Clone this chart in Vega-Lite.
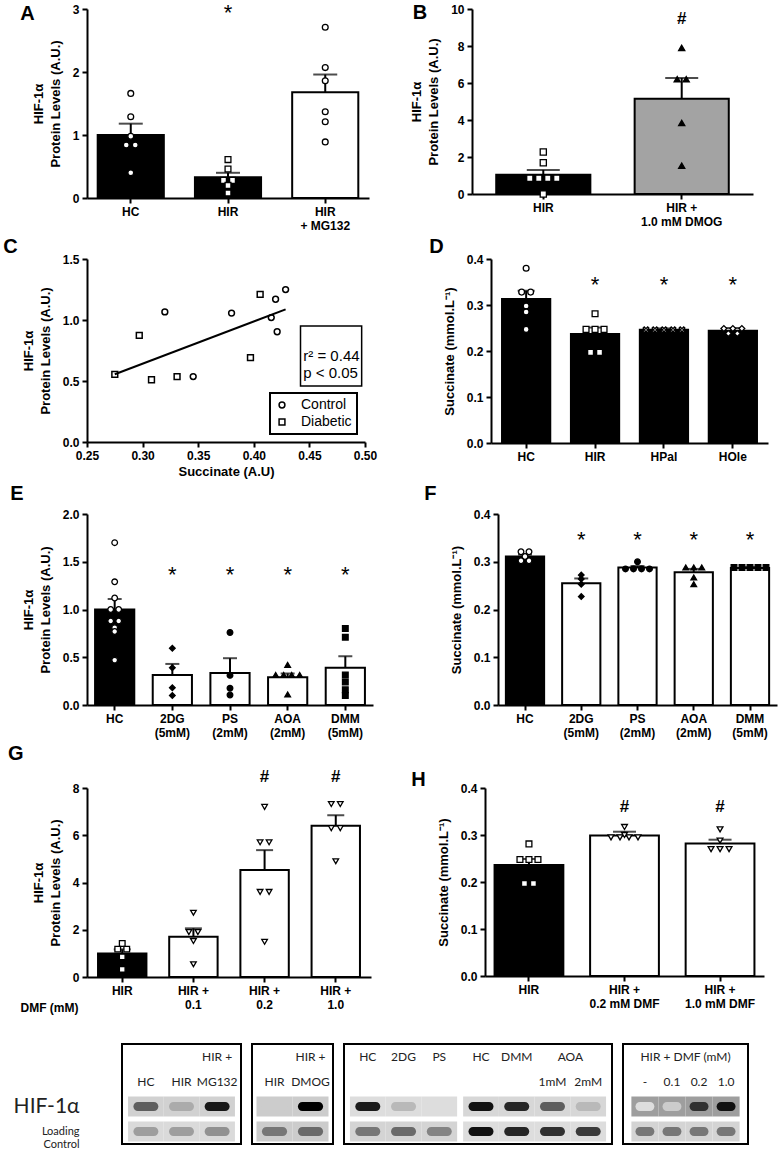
{
"$schema": "https://vega.github.io/schema/vega-lite/v6.json",
"background": "white",
"padding": {"left": 3, "top": 2, "right": 5, "bottom": 5},
"columns": 1,
"align": "none",
"spacing": 6,
"resolve": {"scale": {"fill": "independent", "color": "independent", "shape": "independent"}, "legend": {"shape": "independent"}},
"datasets": {
"Abar": [{"g":"HC","m":1.0,"u":1.18},{"g":"HIR","m":0.33,"u":0.40,"sig":"*","sy":2.93},{"g":"HIR + MG132","m":1.68,"u":1.96}],
"Apts": [{"g":"HC","v":1.66},{"g":"HC","v":1.29},{"g":"HC","v":0.98},{"g":"HC","v":0.84},{"g":"HC","v":0.84},{"g":"HC","v":0.40},
{"g":"HIR","v":0.61},{"g":"HIR","v":0.46},{"g":"HIR","v":0.28},{"g":"HIR","v":0.28},{"g":"HIR","v":0.20},{"g":"HIR","v":0.08},
{"g":"HIR + MG132","v":2.71},{"g":"HIR + MG132","v":2.07},{"g":"HIR + MG132","v":1.86},{"g":"HIR + MG132","v":1.37},{"g":"HIR + MG132","v":1.21},{"g":"HIR + MG132","v":0.89}],
"Bbar": [{"g":"HIR","m":1.04,"u":1.30},{"g":"HIR + 1.0 mM DMOG","m":5.15,"u":6.27,"sig":"#","sy":9.45}],
"Bpts": [{"g":"HIR","v":2.27},{"g":"HIR","v":1.69},{"g":"HIR","v":0.85},{"g":"HIR","v":0.85},{"g":"HIR","v":0.85},{"g":"HIR","v":0.85},{"g":"HIR","v":0.0},
{"g":"HIR + 1.0 mM DMOG","v":7.9},{"g":"HIR + 1.0 mM DMOG","v":6.2},{"g":"HIR + 1.0 mM DMOG","v":6.2},{"g":"HIR + 1.0 mM DMOG","v":3.84},{"g":"HIR + 1.0 mM DMOG","v":1.53}],
"Cpts": [{"grp":"Control","s":0.320,"h":1.066},{"grp":"Control","s":0.3455,"h":0.536},{"grp":"Control","s":0.380,"h":1.057},{"grp":"Control","s":0.4157,"h":1.02},{"grp":"Control","s":0.4196,"h":1.17},{"grp":"Control","s":0.421,"h":0.904},{"grp":"Control","s":0.4286,"h":1.249},
{"grp":"Diabetic","s":0.275,"h":0.555},{"grp":"Diabetic","s":0.297,"h":0.874},{"grp":"Diabetic","s":0.308,"h":0.51},{"grp":"Diabetic","s":0.331,"h":0.536},{"grp":"Diabetic","s":0.397,"h":0.691},{"grp":"Diabetic","s":0.4057,"h":1.21}],
"Cline": [{"s":0.275,"h":0.555},{"s":0.4286,"h":1.087}],
"Cbox": [{"s":0.442,"s2":0.497,"h":0.459,"h2":0.951}],
"Ctxt": [{"s":0.4445,"h":0.66,"t":"r² = 0.44"},{"s":0.4445,"h":0.525,"t":"p < 0.05"}],
"Dbar": [{"g":"HC","m":0.313,"u":0.331},{"g":"HIR","m":0.237,"u":0.251,"sig":"*","sy":0.343},{"g":"HPal","m":0.246,"u":0.249,"sig":"*","sy":0.343},{"g":"HOle","m":0.244,"u":0.250,"sig":"*","sy":0.343}],
"Dpts": [{"g":"HC","v":0.380},{"g":"HC","v":0.328},{"g":"HC","v":0.328},{"g":"HC","v":0.298},{"g":"HC","v":0.285},{"g":"HC","v":0.247},
{"g":"HIR","v":0.281},{"g":"HIR","v":0.247},{"g":"HIR","v":0.247},{"g":"HIR","v":0.247},{"g":"HIR","v":0.197},{"g":"HIR","v":0.197},
{"g":"HPal","v":0.246},{"g":"HPal","v":0.246},{"g":"HPal","v":0.246},{"g":"HPal","v":0.246},{"g":"HPal","v":0.246},
{"g":"HOle","v":0.249},{"g":"HOle","v":0.249},{"g":"HOle","v":0.249},{"g":"HOle","v":0.238},{"g":"HOle","v":0.238}],
"Ebar": [{"g":"HC","m":1.0,"u":1.11},{"g":"2DG (5mM)","m":0.315,"u":0.43,"sig":"*","sy":1.36},{"g":"PS (2mM)","m":0.335,"u":0.49,"sig":"*","sy":1.36},{"g":"AOA (2mM)","m":0.29,"u":0.33,"sig":"*","sy":1.36},{"g":"DMM (5mM)","m":0.39,"u":0.51,"sig":"*","sy":1.36}],
"Epts": [{"g":"HC","v":1.70},{"g":"HC","v":1.29},{"g":"HC","v":1.12},{"g":"HC","v":1.0},{"g":"HC","v":1.0},{"g":"HC","v":0.88},{"g":"HC","v":0.88},{"g":"HC","v":0.81},{"g":"HC","v":0.77},{"g":"HC","v":0.47},
{"g":"2DG (5mM)","v":0.594},{"g":"2DG (5mM)","v":0.39},{"g":"2DG (5mM)","v":0.18},{"g":"2DG (5mM)","v":0.10},
{"g":"PS (2mM)","v":0.76},{"g":"PS (2mM)","v":0.31},{"g":"PS (2mM)","v":0.175},{"g":"PS (2mM)","v":0.105},
{"g":"AOA (2mM)","v":0.42},{"g":"AOA (2mM)","v":0.315},{"g":"AOA (2mM)","v":0.315},{"g":"AOA (2mM)","v":0.315},{"g":"AOA (2mM)","v":0.315},{"g":"AOA (2mM)","v":0.11},
{"g":"DMM (5mM)","v":0.80},{"g":"DMM (5mM)","v":0.71},{"g":"DMM (5mM)","v":0.315},{"g":"DMM (5mM)","v":0.24},{"g":"DMM (5mM)","v":0.16},{"g":"DMM (5mM)","v":0.10}],
"Fbar": [{"g":"HC","m":0.311,"u":0.315},{"g":"2DG (5mM)","m":0.255,"u":0.265,"sig":"*","sy":0.346},{"g":"PS (2mM)","m":0.288,"u":0.291,"sig":"*","sy":0.346},{"g":"AOA (2mM)","m":0.278,"u":0.285,"sig":"*","sy":0.346},{"g":"DMM (5mM)","m":0.287,"u":0.289,"sig":"*","sy":0.346}],
"Fpts": [{"g":"HC","v":0.321},{"g":"HC","v":0.321},{"g":"HC","v":0.311},{"g":"HC","v":0.302},{"g":"HC","v":0.302},
{"g":"2DG (5mM)","v":0.272},{"g":"2DG (5mM)","v":0.264},{"g":"2DG (5mM)","v":0.253},{"g":"2DG (5mM)","v":0.227},
{"g":"PS (2mM)","v":0.30},{"g":"PS (2mM)","v":0.285},{"g":"PS (2mM)","v":0.285},{"g":"PS (2mM)","v":0.285},{"g":"PS (2mM)","v":0.285},
{"g":"AOA (2mM)","v":0.288},{"g":"AOA (2mM)","v":0.288},{"g":"AOA (2mM)","v":0.288},{"g":"AOA (2mM)","v":0.267},{"g":"AOA (2mM)","v":0.253},
{"g":"DMM (5mM)","v":0.288},{"g":"DMM (5mM)","v":0.288},{"g":"DMM (5mM)","v":0.288},{"g":"DMM (5mM)","v":0.288},{"g":"DMM (5mM)","v":0.288}],
"Gbar": [{"g":"HIR","m":1.0,"u":1.17},{"g":"HIR + 0.1","m":1.70,"u":2.06},{"g":"HIR + 0.2","m":4.53,"u":5.37,"sig":"#","sy":8.45},{"g":"HIR + 1.0","m":6.40,"u":6.85,"sig":"#","sy":8.45}],
"Gpts": [{"g":"HIR","v":1.42},{"g":"HIR","v":1.18},{"g":"HIR","v":1.18},{"g":"HIR","v":0.85},{"g":"HIR","v":0.32},
{"g":"HIR + 0.1","v":2.72},{"g":"HIR + 0.1","v":1.90},{"g":"HIR + 0.1","v":1.90},{"g":"HIR + 0.1","v":1.52},{"g":"HIR + 0.1","v":0.54},
{"g":"HIR + 0.2","v":7.2},{"g":"HIR + 0.2","v":5.7},{"g":"HIR + 0.2","v":5.7},{"g":"HIR + 0.2","v":3.6},{"g":"HIR + 0.2","v":3.6},{"g":"HIR + 0.2","v":1.49},
{"g":"HIR + 1.0","v":7.32},{"g":"HIR + 1.0","v":7.32},{"g":"HIR + 1.0","v":6.3},{"g":"HIR + 1.0","v":6.3},{"g":"HIR + 1.0","v":4.90}],
"Hbar": [{"g":"HIR","m":0.236,"u":0.249},{"g":"HIR + 0.2 mM DMF","m":0.299,"u":0.307,"sig":"#","sy":0.36},{"g":"HIR + 1.0 mM DMF","m":0.282,"u":0.290,"sig":"#","sy":0.36}],
"Hpts": [{"g":"HIR","v":0.281},{"g":"HIR","v":0.248},{"g":"HIR","v":0.248},{"g":"HIR","v":0.248},{"g":"HIR","v":0.197},{"g":"HIR","v":0.197},
{"g":"HIR + 0.2 mM DMF","v":0.317},{"g":"HIR + 0.2 mM DMF","v":0.295},{"g":"HIR + 0.2 mM DMF","v":0.295},{"g":"HIR + 0.2 mM DMF","v":0.295},{"g":"HIR + 0.2 mM DMF","v":0.295},{"g":"HIR + 0.2 mM DMF","v":0.30},
{"g":"HIR + 1.0 mM DMF","v":0.312},{"g":"HIR + 1.0 mM DMF","v":0.288},{"g":"HIR + 1.0 mM DMF","v":0.270},{"g":"HIR + 1.0 mM DMF","v":0.270},{"g":"HIR + 1.0 mM DMF","v":0.270}],
"blotlab": [{"row":"HIF"},{"row":"LC"}],
"blot1": [{"lane":"HC","row":"HIF","bg":0.16,"b":0.6},{"lane":"HIR","row":"HIF","bg":0.16,"b":0.3},{"lane":"HIR + MG132","row":"HIF","bg":0.16,"b":0.92},
{"lane":"HC","row":"LC","bg":0.13,"b":0.35},{"lane":"HIR","row":"LC","bg":0.13,"b":0.35},{"lane":"HIR + MG132","row":"LC","bg":0.13,"b":0.4}],
"lab1": [{"lane":"HC","row":"l2","t":"HC"},{"lane":"HIR","row":"l2","t":"HIR"},{"lane":"HIR + MG132","row":"l1","t":"HIR +"},{"lane":"HIR + MG132","row":"l2","t":"MG132"}],
"blot2": [{"lane":"HIR","row":"HIF","bg":0.18,"b":0.18},{"lane":"HIR + DMOG","row":"HIF","bg":0.18,"b":1.0},
{"lane":"HIR","row":"LC","bg":0.18,"b":0.5},{"lane":"HIR + DMOG","row":"LC","bg":0.18,"b":0.55}],
"lab2": [{"lane":"HIR","row":"l2","t":"HIR"},{"lane":"HIR + DMOG","row":"l1","t":"HIR +"},{"lane":"HIR + DMOG","row":"l2","t":"DMOG"}],
"blot3": [{"lane":"HC a","strip":1,"row":"HIF","bg":0.12,"b":0.9},{"lane":"2DG","strip":1,"row":"HIF","bg":0.12,"b":0.25},{"lane":"PS","strip":1,"row":"HIF","bg":0.12,"b":0.12},
{"lane":"HC b","strip":2,"row":"HIF","bg":0.14,"b":0.95},{"lane":"DMM","strip":2,"row":"HIF","bg":0.14,"b":0.85},{"lane":"AOA 1mM","strip":2,"row":"HIF","bg":0.14,"b":0.6},{"lane":"AOA 2mM","strip":2,"row":"HIF","bg":0.14,"b":0.25},
{"lane":"HC a","strip":1,"row":"LC","bg":0.15,"b":0.5},{"lane":"2DG","strip":1,"row":"LC","bg":0.15,"b":0.55},{"lane":"PS","strip":1,"row":"LC","bg":0.15,"b":0.45},
{"lane":"HC b","strip":2,"row":"LC","bg":0.12,"b":0.95},{"lane":"DMM","strip":2,"row":"LC","bg":0.12,"b":0.85},{"lane":"AOA 1mM","strip":2,"row":"LC","bg":0.12,"b":0.8},{"lane":"AOA 2mM","strip":2,"row":"LC","bg":0.12,"b":0.75}],
"lab3": [{"lane":"HC a","strip":1,"row":"l1","t":"HC"},{"lane":"2DG","strip":1,"row":"l1","t":"2DG"},{"lane":"PS","strip":1,"row":"l1","t":"PS"},
{"lane":"HC b","strip":2,"row":"l1","t":"HC"},{"lane":"DMM","strip":2,"row":"l1","t":"DMM"},{"lane":"AOA 1mM","strip":2,"row":"l1","t":"AOA","span":true},
{"lane":"AOA 1mM","strip":2,"row":"l2","t":"1mM"},{"lane":"AOA 2mM","strip":2,"row":"l2","t":"2mM"}],
"blot4": [{"lane":"-","row":"HIF","bg":0.35,"b":0.12},{"lane":"0.1","row":"HIF","bg":0.35,"b":0.18},{"lane":"0.2","row":"HIF","bg":0.35,"b":0.8},{"lane":"1.0","row":"HIF","bg":0.35,"b":0.95},
{"lane":"-","row":"LC","bg":0.15,"b":0.5},{"lane":"0.1","row":"LC","bg":0.15,"b":0.5},{"lane":"0.2","row":"LC","bg":0.15,"b":0.5},{"lane":"1.0","row":"LC","bg":0.15,"b":0.5}],
"lab4": [{"lane":"0.1","row":"l1","t":"HIR + DMF (mM)","span":true},{"lane":"-","row":"l2","t":"-"},{"lane":"0.1","row":"l2","t":"0.1"},{"lane":"0.2","row":"l2","t":"0.2"},{"lane":"1.0","row":"l2","t":"1.0"}]
},
"concat": [
{"hconcat": [
{"title": {"text": "A", "dx": -12, "offset": -22}, "width": 282, "height": 189,
 "encoding": {"x": {"field": "g", "type": "nominal", "sort": null, "title": null, "scale": {"domain": ["HC","HIR","HIR + MG132"], "paddingInner": 0.32, "paddingOuter": 0.11}, "axis": {"labelExpr": "split(replace(datum.label, ' + ', '|+ '), '|')"}}},
 "layer": [
  {"data": {"name": "Abar"}, "mark": {"type": "bar", "stroke": "black", "strokeWidth": 2},
   "encoding": {"y": {"field": "m", "type": "quantitative", "scale": {"domain": [0, 3], "nice": false}, "title": ["HIF-1α", "Protein Levels (A.U.)"], "axis": {"values": [0,1,2,3], "format": "d"}},
    "fill": {"field": "g", "type": "nominal", "scale": {"domain": ["HC","HIR","HIR + MG132"], "range": ["black","black","white"]}, "legend": null}}},
  {"data": {"name": "Abar"}, "mark": {"type": "rule", "strokeWidth": 2, "color": "black"},
   "encoding": {"y": {"field": "m", "type": "quantitative", "scale": {"domain": [0, 3], "nice": false}, "title": ["HIF-1α", "Protein Levels (A.U.)"], "axis": {"values": [0,1,2,3], "format": "d"}}, "y2": {"field": "u"}}},
  {"data": {"name": "Abar"}, "mark": {"type": "tick", "thickness": 2, "size": 24, "color": "black"},
   "encoding": {"y": {"field": "u", "type": "quantitative", "scale": {"domain": [0, 3], "nice": false}, "title": ["HIF-1α", "Protein Levels (A.U.)"], "axis": {"values": [0,1,2,3], "format": "d"}}}},
  {"data": {"name": "Apts"}, "transform": [{"window": [{"op": "row_number", "as": "k"}], "groupby": ["g","v"]}, {"joinaggregate": [{"op": "count", "as": "n"}], "groupby": ["g","v"]}, {"calculate": "datum.k - (datum.n + 1) / 2", "as": "off"}],
   "mark": {"type": "point", "filled": true, "stroke": "black", "strokeWidth": 1.3, "size": 34, "opacity": 1, "xOffset": {"expr": "datum.off * 9"}},
   "encoding": {"y": {"field": "v", "type": "quantitative", "scale": {"domain": [0, 3], "nice": false}, "title": ["HIF-1α", "Protein Levels (A.U.)"], "axis": {"values": [0,1,2,3], "format": "d"}},
    "shape": {"field": "g", "type": "nominal", "scale": {"domain": ["HC","HIR","HIR + MG132"], "range": ["circle","square","circle"]}, "legend": null},
    "color": {"field": "g", "type": "nominal", "scale": {"domain": ["HC","HIR","HIR + MG132"], "range": ["white","white","white"]}, "legend": null}}},
  {"data": {"name": "Abar"}, "transform": [{"filter": "datum.sig"}], "mark": {"type": "text", "fontSize": 22, "baseline": "middle", "color": "black"},
   "encoding": {"y": {"field": "sy", "type": "quantitative", "scale": {"domain": [0, 3], "nice": false}, "title": ["HIF-1α", "Protein Levels (A.U.)"], "axis": {"values": [0,1,2,3], "format": "d"}}, "text": {"field": "sig"}}}
 ]},
{"title": {"text": "B", "dx": 2, "offset": -20}, "width": 281, "height": 185,
 "encoding": {"x": {"field": "g", "type": "nominal", "sort": null, "title": null, "scale": {"domain": ["HIR","HIR + 1.0 mM DMOG"], "paddingInner": 0.32, "paddingOuter": 0.175}, "axis": {"labelExpr": "split(replace(datum.label, '+ ', '+|'), '|')"}}},
 "layer": [
  {"data": {"name": "Bbar"}, "mark": {"type": "bar", "stroke": "black", "strokeWidth": 2},
   "encoding": {"y": {"field": "m", "type": "quantitative", "scale": {"domain": [0, 10], "nice": false}, "title": ["HIF-1α", "Protein Levels (A.U.)"], "axis": {"values": [0,2,4,6,8,10], "format": "d"}},
    "fill": {"field": "g", "type": "nominal", "scale": {"domain": ["HIR","HIR + 1.0 mM DMOG"], "range": ["black","#a3a3a3"]}, "legend": null}}},
  {"data": {"name": "Bbar"}, "mark": {"type": "rule", "strokeWidth": 2, "color": "black"},
   "encoding": {"y": {"field": "m", "type": "quantitative", "scale": {"domain": [0, 10], "nice": false}, "title": ["HIF-1α", "Protein Levels (A.U.)"], "axis": {"values": [0,2,4,6,8,10], "format": "d"}}, "y2": {"field": "u"}}},
  {"data": {"name": "Bbar"}, "mark": {"type": "tick", "thickness": 2, "size": 33, "color": "black"},
   "encoding": {"y": {"field": "u", "type": "quantitative", "scale": {"domain": [0, 10], "nice": false}, "title": ["HIF-1α", "Protein Levels (A.U.)"], "axis": {"values": [0,2,4,6,8,10], "format": "d"}}}},
  {"data": {"name": "Bpts"}, "transform": [{"window": [{"op": "row_number", "as": "k"}], "groupby": ["g","v"]}, {"joinaggregate": [{"op": "count", "as": "n"}], "groupby": ["g","v"]}, {"calculate": "datum.k - (datum.n + 1) / 2", "as": "off"}],
   "mark": {"type": "point", "filled": true, "stroke": "black", "strokeWidth": 1.3, "size": 38, "opacity": 1, "xOffset": {"expr": "datum.off * 9"}},
   "encoding": {"y": {"field": "v", "type": "quantitative", "scale": {"domain": [0, 10], "nice": false}, "title": ["HIF-1α", "Protein Levels (A.U.)"], "axis": {"values": [0,2,4,6,8,10], "format": "d"}},
    "shape": {"field": "g", "type": "nominal", "scale": {"domain": ["HIR","HIR + 1.0 mM DMOG"], "range": ["square","triangle-up"]}, "legend": null},
    "color": {"field": "g", "type": "nominal", "scale": {"domain": ["HIR","HIR + 1.0 mM DMOG"], "range": ["white","black"]}, "legend": null}}},
  {"data": {"name": "Bbar"}, "transform": [{"filter": "datum.sig"}], "mark": {"type": "text", "fontSize": 17, "fontWeight": "bold", "baseline": "middle", "color": "black"},
   "encoding": {"y": {"field": "sy", "type": "quantitative", "scale": {"domain": [0, 10], "nice": false}, "title": ["HIF-1α", "Protein Levels (A.U.)"], "axis": {"values": [0,2,4,6,8,10], "format": "d"}}, "text": {"field": "sig"}}}
 ]}
], "spacing": 41, "resolve": {"scale": {"fill": "independent", "color": "independent", "shape": "independent"}}},
{"hconcat": [
{"title": {"text": "C", "dx": -19, "offset": -4}, "width": 278, "height": 183,
 "encoding": {"x": {"field": "s", "type": "quantitative", "title": "Succinate (A.U)", "scale": {"domain": [0.25, 0.5], "nice": false, "zero": false}, "axis": {"values": [0.25,0.3,0.35,0.4,0.45,0.5], "format": ".2f"}},
   "y": {"field": "h", "type": "quantitative", "title": ["HIF-1α", "Protein Levels (A.U.)"], "scale": {"domain": [0, 1.5], "nice": false}, "axis": {"values": [0,0.5,1,1.5], "format": ".1f"}}},
 "layer": [
  {"data": {"name": "Cbox"}, "mark": {"type": "rect", "fill": "white", "stroke": "black", "strokeWidth": 1.5},
   "encoding": {"x2": {"field": "s2"}, "y2": {"field": "h2"}}},
  {"data": {"name": "Ctxt"}, "mark": {"type": "text", "align": "left", "baseline": "alphabetic", "fontSize": 15, "color": "black"},
   "encoding": {"text": {"field": "t"}}},
  {"data": {"name": "Cline"}, "mark": {"type": "line", "color": "black", "strokeWidth": 2}, "encoding": {}},
  {"data": {"name": "Cpts"}, "mark": {"type": "point", "filled": false, "color": "black", "strokeWidth": 1.5, "size": 34, "opacity": 1},
   "encoding": {
    "shape": {"field": "grp", "type": "nominal", "scale": {"domain": ["Control","Diabetic"], "range": ["circle","square"]},
     "legend": {"title": null, "orient": "bottom-right", "offset": 8, "strokeColor": "black", "padding": 5, "labelFont": "Liberation Sans", "labelFontSize": 14, "labelFontWeight": "normal", "labelColor": "black", "symbolStrokeColor": "black", "symbolStrokeWidth": 1.5, "symbolSize": 34, "symbolFillColor": "white", "rowPadding": 3, "labelOffset": 12}}}}
 ]},
{"title": {"text": "D", "dx": -14, "offset": -4}, "width": 277, "height": 184,
 "encoding": {"x": {"field": "g", "type": "nominal", "sort": null, "title": null, "scale": {"domain": ["HC","HIR","HPal","HOle"], "paddingInner": 0.3, "paddingOuter": 0.16}}},
 "layer": [
  {"data": {"name": "Dbar"}, "mark": {"type": "bar", "stroke": "black", "strokeWidth": 2},
   "encoding": {"y": {"field": "m", "type": "quantitative", "scale": {"domain": [0, 0.4], "nice": false}, "title": "Succinate (mmol.L⁻¹)", "axis": {"values": [0,0.1,0.2,0.3,0.4], "format": ".1f"}},
    "fill": {"field": "g", "type": "nominal", "scale": {"domain": ["HC","HIR","HPal","HOle"], "range": ["black","black","black","black"]}, "legend": null}}},
  {"data": {"name": "Dbar"}, "mark": {"type": "rule", "strokeWidth": 2, "color": "black"},
   "encoding": {"y": {"field": "m", "type": "quantitative", "scale": {"domain": [0, 0.4], "nice": false}, "title": "Succinate (mmol.L⁻¹)", "axis": {"values": [0,0.1,0.2,0.3,0.4], "format": ".1f"}}, "y2": {"field": "u"}}},
  {"data": {"name": "Dbar"}, "mark": {"type": "tick", "thickness": 2, "size": 17, "color": "black"},
   "encoding": {"y": {"field": "u", "type": "quantitative", "scale": {"domain": [0, 0.4], "nice": false}, "title": "Succinate (mmol.L⁻¹)", "axis": {"values": [0,0.1,0.2,0.3,0.4], "format": ".1f"}}}},
  {"data": {"name": "Dpts"}, "transform": [{"window": [{"op": "row_number", "as": "k"}], "groupby": ["g","v"]}, {"joinaggregate": [{"op": "count", "as": "n"}], "groupby": ["g","v"]}, {"calculate": "datum.k - (datum.n + 1) / 2", "as": "off"}],
   "mark": {"type": "point", "filled": true, "stroke": "black", "strokeWidth": 1.3, "size": 34, "opacity": 1, "xOffset": {"expr": "datum.off * 9"}},
   "encoding": {"y": {"field": "v", "type": "quantitative", "scale": {"domain": [0, 0.4], "nice": false}, "title": "Succinate (mmol.L⁻¹)", "axis": {"values": [0,0.1,0.2,0.3,0.4], "format": ".1f"}},
    "shape": {"field": "g", "type": "nominal", "scale": {"domain": ["HC","HIR","HPal","HOle"], "range": ["circle","square","M-1,-0.6L-0.6,-1L0,-0.4L0.6,-1L1,-0.6L0.4,0L1,0.6L0.6,1L0,0.4L-0.6,1L-1,0.6L-0.4,0Z","diamond"]}, "legend": null},
    "color": {"field": "g", "type": "nominal", "scale": {"domain": ["HC","HIR","HPal","HOle"], "range": ["white","white","white","white"]}, "legend": null}}},
  {"data": {"name": "Dbar"}, "transform": [{"filter": "datum.sig"}], "mark": {"type": "text", "fontSize": 22, "baseline": "middle", "color": "black"},
   "encoding": {"y": {"field": "sy", "type": "quantitative", "scale": {"domain": [0, 0.4], "nice": false}, "title": "Succinate (mmol.L⁻¹)", "axis": {"values": [0,0.1,0.2,0.3,0.4], "format": ".1f"}}, "text": {"field": "sig"}}}
 ]}
], "spacing": 52, "resolve": {"scale": {"fill": "independent", "color": "independent", "shape": "independent"}, "legend": {"shape": "independent"}}},
{"hconcat": [
{"title": {"text": "E", "dx": -12, "offset": 4}, "width": 286, "height": 191,
 "encoding": {"x": {"field": "g", "type": "nominal", "sort": null, "title": null, "scale": {"domain": ["HC","2DG (5mM)","PS (2mM)","AOA (2mM)","DMM (5mM)"], "paddingInner": 0.32, "paddingOuter": 0.14}, "axis": {"labelExpr": "split(datum.label, ' ')"}}},
 "layer": [
  {"data": {"name": "Ebar"}, "mark": {"type": "bar", "stroke": "black", "strokeWidth": 2},
   "encoding": {"y": {"field": "m", "type": "quantitative", "scale": {"domain": [0, 2], "nice": false}, "title": ["HIF-1α", "Protein Levels (A.U.)"], "axis": {"values": [0,0.5,1,1.5,2], "format": ".1f"}},
    "fill": {"field": "g", "type": "nominal", "scale": {"domain": ["HC","2DG (5mM)","PS (2mM)","AOA (2mM)","DMM (5mM)"], "range": ["black","white","white","white","white"]}, "legend": null}}},
  {"data": {"name": "Ebar"}, "mark": {"type": "rule", "strokeWidth": 2, "color": "black"},
   "encoding": {"y": {"field": "m", "type": "quantitative", "scale": {"domain": [0, 2], "nice": false}, "title": ["HIF-1α", "Protein Levels (A.U.)"], "axis": {"values": [0,0.5,1,1.5,2], "format": ".1f"}}, "y2": {"field": "u"}}},
  {"data": {"name": "Ebar"}, "mark": {"type": "tick", "thickness": 2, "size": 14, "color": "black"},
   "encoding": {"y": {"field": "u", "type": "quantitative", "scale": {"domain": [0, 2], "nice": false}, "title": ["HIF-1α", "Protein Levels (A.U.)"], "axis": {"values": [0,0.5,1,1.5,2], "format": ".1f"}}}},
  {"data": {"name": "Epts"}, "transform": [{"window": [{"op": "row_number", "as": "k"}], "groupby": ["g","v"]}, {"joinaggregate": [{"op": "count", "as": "n"}], "groupby": ["g","v"]}, {"calculate": "datum.k - (datum.n + 1) / 2", "as": "off"}],
   "mark": {"type": "point", "filled": true, "stroke": "black", "strokeWidth": 1.3, "size": 32, "opacity": 1, "xOffset": {"expr": "datum.off * 8"}},
   "encoding": {"y": {"field": "v", "type": "quantitative", "scale": {"domain": [0, 2], "nice": false}, "title": ["HIF-1α", "Protein Levels (A.U.)"], "axis": {"values": [0,0.5,1,1.5,2], "format": ".1f"}},
    "shape": {"field": "g", "type": "nominal", "scale": {"domain": ["HC","2DG (5mM)","PS (2mM)","AOA (2mM)","DMM (5mM)"], "range": ["circle","diamond","circle","triangle-up","square"]}, "legend": null},
    "color": {"field": "g", "type": "nominal", "scale": {"domain": ["HC","2DG (5mM)","PS (2mM)","AOA (2mM)","DMM (5mM)"], "range": ["white","black","black","black","black"]}, "legend": null}}},
  {"data": {"name": "Ebar"}, "transform": [{"filter": "datum.sig"}], "mark": {"type": "text", "fontSize": 22, "baseline": "middle", "color": "black"},
   "encoding": {"y": {"field": "sy", "type": "quantitative", "scale": {"domain": [0, 2], "nice": false}, "title": ["HIF-1α", "Protein Levels (A.U.)"], "axis": {"values": [0,0.5,1,1.5,2], "format": ".1f"}}, "text": {"field": "sig"}}}
 ]},
{"title": {"text": "F", "dx": -26, "offset": 4}, "width": 279, "height": 191,
 "encoding": {"x": {"field": "g", "type": "nominal", "sort": null, "title": null, "scale": {"domain": ["HC","2DG (5mM)","PS (2mM)","AOA (2mM)","DMM (5mM)"], "paddingInner": 0.32, "paddingOuter": 0.14}, "axis": {"labelExpr": "split(datum.label, ' ')"}}},
 "layer": [
  {"data": {"name": "Fbar"}, "mark": {"type": "bar", "stroke": "black", "strokeWidth": 2},
   "encoding": {"y": {"field": "m", "type": "quantitative", "scale": {"domain": [0, 0.4], "nice": false}, "title": "Succinate (mmol.L⁻¹)", "axis": {"values": [0,0.1,0.2,0.3,0.4], "format": ".1f"}},
    "fill": {"field": "g", "type": "nominal", "scale": {"domain": ["HC","2DG (5mM)","PS (2mM)","AOA (2mM)","DMM (5mM)"], "range": ["black","white","white","white","white"]}, "legend": null}}},
  {"data": {"name": "Fbar"}, "mark": {"type": "rule", "strokeWidth": 2, "color": "black"},
   "encoding": {"y": {"field": "m", "type": "quantitative", "scale": {"domain": [0, 0.4], "nice": false}, "title": "Succinate (mmol.L⁻¹)", "axis": {"values": [0,0.1,0.2,0.3,0.4], "format": ".1f"}}, "y2": {"field": "u"}}},
  {"data": {"name": "Fbar"}, "mark": {"type": "tick", "thickness": 2, "size": 14, "color": "black"},
   "encoding": {"y": {"field": "u", "type": "quantitative", "scale": {"domain": [0, 0.4], "nice": false}, "title": "Succinate (mmol.L⁻¹)", "axis": {"values": [0,0.1,0.2,0.3,0.4], "format": ".1f"}}}},
  {"data": {"name": "Fpts"}, "transform": [{"window": [{"op": "row_number", "as": "k"}], "groupby": ["g","v"]}, {"joinaggregate": [{"op": "count", "as": "n"}], "groupby": ["g","v"]}, {"calculate": "datum.k - (datum.n + 1) / 2", "as": "off"}],
   "mark": {"type": "point", "filled": true, "stroke": "black", "strokeWidth": 1.3, "size": 32, "opacity": 1, "xOffset": {"expr": "datum.off * 8"}},
   "encoding": {"y": {"field": "v", "type": "quantitative", "scale": {"domain": [0, 0.4], "nice": false}, "title": "Succinate (mmol.L⁻¹)", "axis": {"values": [0,0.1,0.2,0.3,0.4], "format": ".1f"}},
    "shape": {"field": "g", "type": "nominal", "scale": {"domain": ["HC","2DG (5mM)","PS (2mM)","AOA (2mM)","DMM (5mM)"], "range": ["circle","diamond","circle","triangle-up","square"]}, "legend": null},
    "color": {"field": "g", "type": "nominal", "scale": {"domain": ["HC","2DG (5mM)","PS (2mM)","AOA (2mM)","DMM (5mM)"], "range": ["white","black","black","black","black"]}, "legend": null}}},
  {"data": {"name": "Fbar"}, "transform": [{"filter": "datum.sig"}], "mark": {"type": "text", "fontSize": 22, "baseline": "middle", "color": "black"},
   "encoding": {"y": {"field": "sy", "type": "quantitative", "scale": {"domain": [0, 0.4], "nice": false}, "title": "Succinate (mmol.L⁻¹)", "axis": {"values": [0,0.1,0.2,0.3,0.4], "format": ".1f"}}, "text": {"field": "sig"}}}
 ]}
], "spacing": 51, "resolve": {"scale": {"fill": "independent", "color": "independent", "shape": "independent"}}},
{"hconcat": [
{"title": {"text": "G", "dx": -12, "offset": 4}, "width": 284, "height": 189,
 "encoding": {"x": {"field": "g", "type": "nominal", "sort": null, "title": "DMF (mM)", "scale": {"domain": ["HIR","HIR + 0.1","HIR + 0.2","HIR + 1.0"], "paddingInner": 0.32, "paddingOuter": 0.155}, "axis": {"labelExpr": "split(replace(datum.label, '+ ', '+|'), '|')", "titleX": -38, "titleY": 30, "titleAlign": "center", "titleBaseline": "middle", "titleFontSize": 12}}},
 "layer": [
  {"data": {"name": "Gbar"}, "mark": {"type": "bar", "stroke": "black", "strokeWidth": 2},
   "encoding": {"y": {"field": "m", "type": "quantitative", "scale": {"domain": [0, 8], "nice": false}, "title": ["HIF-1α", "Protein Levels (A.U.)"], "axis": {"values": [0,2,4,6,8], "format": "d"}},
    "fill": {"field": "g", "type": "nominal", "scale": {"domain": ["HIR","HIR + 0.1","HIR + 0.2","HIR + 1.0"], "range": ["black","white","white","white"]}, "legend": null}}},
  {"data": {"name": "Gbar"}, "mark": {"type": "rule", "strokeWidth": 2, "color": "black"},
   "encoding": {"y": {"field": "m", "type": "quantitative", "scale": {"domain": [0, 8], "nice": false}, "title": ["HIF-1α", "Protein Levels (A.U.)"], "axis": {"values": [0,2,4,6,8], "format": "d"}}, "y2": {"field": "u"}}},
  {"data": {"name": "Gbar"}, "mark": {"type": "tick", "thickness": 2, "size": 17, "color": "black"},
   "encoding": {"y": {"field": "u", "type": "quantitative", "scale": {"domain": [0, 8], "nice": false}, "title": ["HIF-1α", "Protein Levels (A.U.)"], "axis": {"values": [0,2,4,6,8], "format": "d"}}}},
  {"data": {"name": "Gpts"}, "transform": [{"window": [{"op": "row_number", "as": "k"}], "groupby": ["g","v"]}, {"joinaggregate": [{"op": "count", "as": "n"}], "groupby": ["g","v"]}, {"calculate": "datum.k - (datum.n + 1) / 2", "as": "off"}],
   "mark": {"type": "point", "filled": true, "stroke": "black", "strokeWidth": 1.3, "size": 32, "opacity": 1, "xOffset": {"expr": "datum.off * 9"}},
   "encoding": {"y": {"field": "v", "type": "quantitative", "scale": {"domain": [0, 8], "nice": false}, "title": ["HIF-1α", "Protein Levels (A.U.)"], "axis": {"values": [0,2,4,6,8], "format": "d"}},
    "shape": {"field": "g", "type": "nominal", "scale": {"domain": ["HIR","HIR + 0.1","HIR + 0.2","HIR + 1.0"], "range": ["square","triangle-down","triangle-down","triangle-down"]}, "legend": null},
    "color": {"field": "g", "type": "nominal", "scale": {"domain": ["HIR","HIR + 0.1","HIR + 0.2","HIR + 1.0"], "range": ["white","white","white","white"]}, "legend": null}}},
  {"data": {"name": "Gbar"}, "transform": [{"filter": "datum.sig"}], "mark": {"type": "text", "fontSize": 17, "fontWeight": "bold", "baseline": "middle", "color": "black"},
   "encoding": {"y": {"field": "sy", "type": "quantitative", "scale": {"domain": [0, 8], "nice": false}, "title": ["HIF-1α", "Protein Levels (A.U.)"], "axis": {"values": [0,2,4,6,8], "format": "d"}}, "text": {"field": "sig"}}}
 ]},
{"title": {"text": "H", "dx": -26, "offset": -8}, "width": 279, "height": 188,
 "encoding": {"x": {"field": "g", "type": "nominal", "sort": null, "title": null, "scale": {"domain": ["HIR","HIR + 0.2 mM DMF","HIR + 1.0 mM DMF"], "paddingInner": 0.28, "paddingOuter": 0.1}, "axis": {"labelExpr": "split(replace(datum.label, '+ ', '+|'), '|')"}}},
 "layer": [
  {"data": {"name": "Hbar"}, "mark": {"type": "bar", "stroke": "black", "strokeWidth": 2},
   "encoding": {"y": {"field": "m", "type": "quantitative", "scale": {"domain": [0, 0.4], "nice": false}, "title": "Succinate (mmol.L⁻¹)", "axis": {"values": [0,0.1,0.2,0.3,0.4], "format": ".1f"}},
    "fill": {"field": "g", "type": "nominal", "scale": {"domain": ["HIR","HIR + 0.2 mM DMF","HIR + 1.0 mM DMF"], "range": ["black","white","white"]}, "legend": null}}},
  {"data": {"name": "Hbar"}, "mark": {"type": "rule", "strokeWidth": 2, "color": "black"},
   "encoding": {"y": {"field": "m", "type": "quantitative", "scale": {"domain": [0, 0.4], "nice": false}, "title": "Succinate (mmol.L⁻¹)", "axis": {"values": [0,0.1,0.2,0.3,0.4], "format": ".1f"}}, "y2": {"field": "u"}}},
  {"data": {"name": "Hbar"}, "mark": {"type": "tick", "thickness": 2, "size": 23, "color": "black"},
   "encoding": {"y": {"field": "u", "type": "quantitative", "scale": {"domain": [0, 0.4], "nice": false}, "title": "Succinate (mmol.L⁻¹)", "axis": {"values": [0,0.1,0.2,0.3,0.4], "format": ".1f"}}}},
  {"data": {"name": "Hpts"}, "transform": [{"window": [{"op": "row_number", "as": "k"}], "groupby": ["g","v"]}, {"joinaggregate": [{"op": "count", "as": "n"}], "groupby": ["g","v"]}, {"calculate": "datum.k - (datum.n + 1) / 2", "as": "off"}],
   "mark": {"type": "point", "filled": true, "stroke": "black", "strokeWidth": 1.3, "size": 34, "opacity": 1, "xOffset": {"expr": "datum.off * 9"}},
   "encoding": {"y": {"field": "v", "type": "quantitative", "scale": {"domain": [0, 0.4], "nice": false}, "title": "Succinate (mmol.L⁻¹)", "axis": {"values": [0,0.1,0.2,0.3,0.4], "format": ".1f"}},
    "shape": {"field": "g", "type": "nominal", "scale": {"domain": ["HIR","HIR + 0.2 mM DMF","HIR + 1.0 mM DMF"], "range": ["square","triangle-down","triangle-down"]}, "legend": null},
    "color": {"field": "g", "type": "nominal", "scale": {"domain": ["HIR","HIR + 0.2 mM DMF","HIR + 1.0 mM DMF"], "range": ["white","white","white"]}, "legend": null}}},
  {"data": {"name": "Hbar"}, "transform": [{"filter": "datum.sig"}], "mark": {"type": "text", "fontSize": 17, "fontWeight": "bold", "baseline": "middle", "color": "black"},
   "encoding": {"y": {"field": "sy", "type": "quantitative", "scale": {"domain": [0, 0.4], "nice": false}, "title": "Succinate (mmol.L⁻¹)", "axis": {"values": [0,0.1,0.2,0.3,0.4], "format": ".1f"}}, "text": {"field": "sig"}}}
 ]}
], "spacing": 40, "resolve": {"scale": {"fill": "independent", "color": "independent", "shape": "independent"}}},
{"title": {"text": " ", "fontSize": 16, "offset": 8}, "hconcat": [
{"width": 25, "height": 100,
 "data": {"name": "blotlab"},
 "mark": {"type": "point", "opacity": 0},
 "encoding": {"y": {"field": "row", "type": "nominal", "title": null, "scale": {"domain": ["l1","l2","HIF","LC"], "paddingInner": 0, "paddingOuter": 0},
   "axis": {"domain": false, "ticks": false, "labelExpr": "datum.value == 'HIF' ? 'HIF-1α' : datum.value == 'LC' ? ['Loading', 'Control'] : ''", "labelFont": "Lato", "labelFontWeight": "normal", "labelColor": "#222222", "labelFontSize": {"condition": {"test": "datum.value == 'HIF'", "value": 21}, "value": 11}, "labelAlign": "right", "labelPadding": 8, "labelLineHeight": 13}}}},
{"width": 119, "height": 100, "view": {"stroke": "black", "strokeWidth": 2},
 "encoding": {"x": {"field": "lane", "type": "nominal", "sort": null, "scale": {"domain": ["HC","HIR","HIR + MG132"], "paddingInner": 0, "paddingOuter": 0.17}, "axis": null},
  "y": {"field": "row", "type": "nominal", "scale": {"domain": ["l1","l2","HIF","LC"], "paddingInner": 0, "paddingOuter": 0}, "axis": null}},
 "layer": [
  {"data": {"name": "blot1"}, "mark": {"type": "rect", "width": {"band": 1}, "height": {"band": 0.8}},
   "encoding": {"color": {"field": "bg", "type": "quantitative", "scale": {"domain": [0, 1], "range": ["#ffffff", "#000000"]}, "legend": null}}},
  {"data": {"name": "blot1"}, "mark": {"type": "rect", "width": {"band": 0.7}, "height": {"band": 0.36}, "cornerRadius": 5},
   "encoding": {"color": {"field": "b", "type": "quantitative", "scale": {"domain": [0, 1], "range": ["#ffffff", "#000000"]}, "legend": null}}},
  {"data": {"name": "lab1"}, "mark": {"type": "text", "font": "Lato", "fontSize": 12, "color": "#222222"},
   "encoding": {"text": {"field": "t"}}}
 ]},
{"width": 81, "height": 100, "view": {"stroke": "black", "strokeWidth": 2},
 "encoding": {"x": {"field": "lane", "type": "nominal", "sort": null, "scale": {"domain": ["HIR","HIR + DMOG"], "paddingInner": 0, "paddingOuter": 0.125}, "axis": null},
  "y": {"field": "row", "type": "nominal", "scale": {"domain": ["l1","l2","HIF","LC"], "paddingInner": 0, "paddingOuter": 0}, "axis": null}},
 "layer": [
  {"data": {"name": "blot2"}, "mark": {"type": "rect", "width": {"band": 1}, "height": {"band": 0.8}},
   "encoding": {"color": {"field": "bg", "type": "quantitative", "scale": {"domain": [0, 1], "range": ["#ffffff", "#000000"]}, "legend": null}}},
  {"data": {"name": "blot2"}, "mark": {"type": "rect", "width": {"band": 0.7}, "height": {"band": 0.36}, "cornerRadius": 5},
   "encoding": {"color": {"field": "b", "type": "quantitative", "scale": {"domain": [0, 1], "range": ["#ffffff", "#000000"]}, "legend": null}}},
  {"data": {"name": "lab2"}, "mark": {"type": "text", "font": "Lato", "fontSize": 12, "color": "#222222"},
   "encoding": {"text": {"field": "t"}}}
 ]},
{"width": 268, "height": 100, "view": {"stroke": "black", "strokeWidth": 2},
 "encoding": {"x": {"field": "lane", "type": "nominal", "sort": null, "scale": {"domain": ["HC a","2DG","PS","HC b","DMM","AOA 1mM","AOA 2mM"], "paddingInner": 0, "paddingOuter": 0.25}, "axis": null},
  "y": {"field": "row", "type": "nominal", "scale": {"domain": ["l1","l2","HIF","LC"], "paddingInner": 0, "paddingOuter": 0}, "axis": null}},
 "layer": [
  {"data": {"name": "blot3"}, "mark": {"type": "rect", "width": {"band": 1}, "height": {"band": 0.8}, "xOffset": {"expr": "datum.strip == 1 ? -3 : 3"}},
   "encoding": {"color": {"field": "bg", "type": "quantitative", "scale": {"domain": [0, 1], "range": ["#ffffff", "#000000"]}, "legend": null}}},
  {"data": {"name": "blot3"}, "mark": {"type": "rect", "width": {"band": 0.7}, "height": {"band": 0.36}, "cornerRadius": 5, "xOffset": {"expr": "datum.strip == 1 ? -3 : 3"}},
   "encoding": {"color": {"field": "b", "type": "quantitative", "scale": {"domain": [0, 1], "range": ["#ffffff", "#000000"]}, "legend": null}}},
  {"data": {"name": "lab3"}, "transform": [{"filter": "!datum.span"}], "mark": {"type": "text", "font": "Lato", "fontSize": 12, "color": "#222222", "xOffset": {"expr": "datum.strip == 1 ? -3 : 3"}},
   "encoding": {"text": {"field": "t"}}},
  {"data": {"name": "lab3"}, "transform": [{"filter": "datum.span"}], "mark": {"type": "text", "font": "Lato", "fontSize": 12, "color": "#222222", "xOffset": 3},
   "encoding": {"x": {"field": "lane", "type": "nominal", "sort": null, "bandPosition": 1, "scale": {"domain": ["HC a","2DG","PS","HC b","DMM","AOA 1mM","AOA 2mM"], "paddingInner": 0, "paddingOuter": 0.25}, "axis": null},
    "text": {"field": "t"}}}
 ]},
{"width": 125, "height": 100, "view": {"stroke": "black", "strokeWidth": 2},
 "encoding": {"x": {"field": "lane", "type": "nominal", "sort": null, "scale": {"domain": ["-","0.1","0.2","1.0"], "paddingInner": 0, "paddingOuter": 0.31}, "axis": null},
  "y": {"field": "row", "type": "nominal", "scale": {"domain": ["l1","l2","HIF","LC"], "paddingInner": 0, "paddingOuter": 0}, "axis": null}},
 "layer": [
  {"data": {"name": "blot4"}, "mark": {"type": "rect", "width": {"band": 1}, "height": {"band": 0.8}},
   "encoding": {"color": {"field": "bg", "type": "quantitative", "scale": {"domain": [0, 1], "range": ["#ffffff", "#000000"]}, "legend": null}}},
  {"data": {"name": "blot4"}, "mark": {"type": "rect", "width": {"band": 0.7}, "height": {"band": 0.36}, "cornerRadius": 5},
   "encoding": {"color": {"field": "b", "type": "quantitative", "scale": {"domain": [0, 1], "range": ["#ffffff", "#000000"]}, "legend": null}}},
  {"data": {"name": "lab4"}, "transform": [{"filter": "!datum.span"}], "mark": {"type": "text", "font": "Lato", "fontSize": 12, "color": "#222222"},
   "encoding": {"text": {"field": "t"}}},
  {"data": {"name": "lab4"}, "transform": [{"filter": "datum.span"}], "mark": {"type": "text", "font": "Lato", "fontSize": 12, "color": "#222222"},
   "encoding": {"x": {"field": "lane", "type": "nominal", "sort": null, "bandPosition": 1, "scale": {"domain": ["-","0.1","0.2","1.0"], "paddingInner": 0, "paddingOuter": 0.31}, "axis": null},
    "text": {"field": "t"}}}
 ]}
], "spacing": 9, "resolve": {"scale": {"color": "independent"}}}
],
"config": {
 "font": "Liberation Sans",
 "view": {"stroke": null},
 "axis": {"domainColor": "black", "domainWidth": 2, "tickColor": "black", "tickWidth": 2, "tickSize": 5, "labelFont": "Liberation Sans", "labelFontWeight": "bold", "labelFontSize": 12, "labelColor": "black", "titleFont": "Liberation Sans", "titleFontWeight": "bold", "titleFontSize": 13, "titleColor": "black", "grid": false, "labelPadding": 3, "labelOverlap": false, "labelFlush": false},
 "axisX": {"labelAngle": 0, "labelLineHeight": 14},
 "axisY": {"titlePadding": 10, "titleLineHeight": 17},
 "title": {"fontSize": 20, "fontWeight": "bold", "anchor": "start", "frame": "bounds", "color": "black", "font": "Liberation Sans"},
 "legend": {"strokeWidth": 2}
}
}
